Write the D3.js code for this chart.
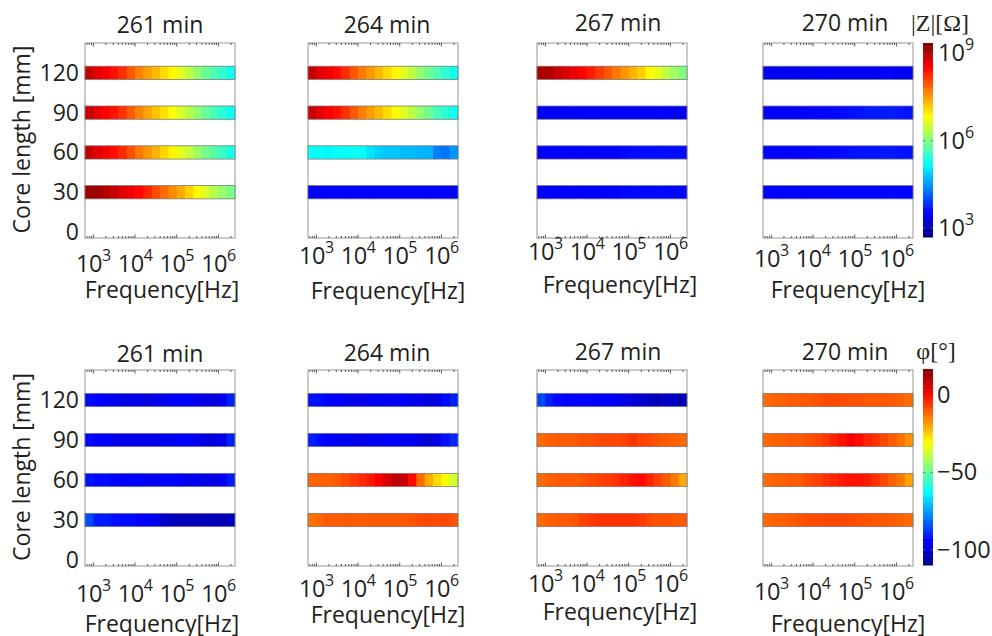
<!DOCTYPE html>
<html>
<head>
<meta charset="utf-8">
<script src="https://cdn.jsdelivr.net/npm/d3@7"></script>
<style>
body { margin: 0; background: #fff; }
text { font-family: "Open Sans", sans-serif; fill: #231f20; }
</style>
</head>
<body>
<div id="chart"></div>
<script>
// sweep frequencies [Hz] (one cell per frequency)
const freqs = [800, 1250, 2000, 3150, 5000, 8000, 12500, 20000, 31500, 50000, 80000, 125000, 200000, 315000, 500000, 800000, 1250000, 2000000];
const freqRange = [630, 2500000];
const coreLengths = [30, 60, 90, 120];
const times = [261, 264, 267, 270];
const lengthTicks = [0, 30, 60, 90, 120];
const decadeTicks = [1e3, 1e4, 1e5, 1e6];
const magTicks = [3, 6, 9];          // log10 |Z|
const phaseTicks = [0, -50, -100];   // degrees

// log10 |Z| [Ohm]; rows = core length 30, 60, 90, 120 mm
const logZ261 = [
    [9.15, 9.15, 9.02, 8.88, 8.75, 8.62, 8.49, 8.29, 8.02, 7.82, 7.62, 7.42, 7.16, 6.89, 6.62, 6.36, 6.16, 5.96],
    [8.90, 8.70, 8.58, 8.45, 8.25, 8.00, 7.75, 7.55, 7.35, 7.12, 6.92, 6.72, 6.48, 6.22, 5.95, 5.75, 5.55, 5.35],
    [8.85, 8.65, 8.52, 8.40, 8.20, 7.92, 7.66, 7.45, 7.25, 7.05, 6.85, 6.62, 6.38, 6.12, 5.86, 5.65, 5.45, 5.25],
    [8.88, 8.69, 8.55, 8.42, 8.22, 7.95, 7.69, 7.49, 7.29, 7.09, 6.89, 6.69, 6.42, 6.16, 5.89, 5.69, 5.49, 5.29]
];
const logZ264 = [
    [3.52, 3.52, 3.52, 3.52, 3.52, 3.52, 3.52, 3.52, 3.52, 3.52, 3.52, 3.52, 3.52, 3.52, 3.52, 3.52, 3.52, 3.52],
    [5.23, 5.23, 5.16, 5.23, 5.23, 5.29, 5.23, 5.03, 4.89, 4.83, 4.83, 4.76, 4.76, 4.70, 4.70, 4.36, 4.30, 4.50],
    [8.85, 8.68, 8.55, 8.42, 8.22, 7.95, 7.70, 7.50, 7.30, 7.08, 6.88, 6.65, 6.40, 6.15, 5.88, 5.66, 5.46, 5.27],
    [8.88, 8.70, 8.57, 8.44, 8.24, 7.97, 7.72, 7.52, 7.32, 7.10, 6.90, 6.68, 6.42, 6.16, 5.90, 5.68, 5.48, 5.28]
];
const logZ267 = [
    [3.50, 3.50, 3.50, 3.50, 3.50, 3.50, 3.50, 3.50, 3.50, 3.52, 3.57, 3.57, 3.57, 3.57, 3.57, 3.57, 3.57, 3.57],
    [3.50, 3.50, 3.50, 3.50, 3.50, 3.50, 3.50, 3.50, 3.50, 3.50, 3.57, 3.60, 3.60, 3.60, 3.60, 3.60, 3.60, 3.60],
    [3.45, 3.45, 3.47, 3.47, 3.47, 3.47, 3.47, 3.47, 3.47, 3.47, 3.47, 3.50, 3.50, 3.50, 3.50, 3.50, 3.50, 3.50],
    [9.08, 9.02, 8.88, 8.75, 8.62, 8.49, 8.35, 8.15, 7.95, 7.75, 7.55, 7.36, 7.16, 6.89, 6.69, 6.42, 6.22, 6.03]
];
const logZ270 = [
    [3.52, 3.52, 3.52, 3.52, 3.52, 3.52, 3.52, 3.52, 3.56, 3.56, 3.56, 3.56, 3.56, 3.56, 3.56, 3.56, 3.56, 3.56],
    [3.50, 3.50, 3.50, 3.52, 3.53, 3.53, 3.55, 3.57, 3.58, 3.60, 3.62, 3.64, 3.66, 3.66, 3.68, 3.68, 3.66, 3.64],
    [3.48, 3.48, 3.50, 3.50, 3.52, 3.53, 3.55, 3.55, 3.57, 3.59, 3.62, 3.64, 3.68, 3.70, 3.70, 3.72, 3.68, 3.64],
    [3.45, 3.45, 3.45, 3.45, 3.45, 3.45, 3.47, 3.47, 3.47, 3.47, 3.47, 3.47, 3.47, 3.47, 3.51, 3.51, 3.47, 3.47]
];

// phase [deg]; rows = core length 30, 60, 90, 120 mm
const phase261 = [
    [-85, -91, -91, -92, -93, -93, -95, -95, -97, -101, -102, -103, -103, -103, -103, -103, -103, -103],
    [-92, -93, -93, -94, -95, -95, -95, -95, -95, -94, -94, -95, -96, -96, -97, -98, -95, -91],
    [-93, -94, -95, -96, -97, -97, -97, -97, -96, -96, -95, -94, -95, -96, -98, -99, -96, -90],
    [-93, -94, -95, -96, -97, -97, -97, -98, -97, -96, -95, -94, -95, -96, -98, -99, -96, -90]
];
const phase264 = [
    [-13, -12, -10, -10, -10, -10, -10, -10, -10, -10, -10, -10, -9, -8, -8, -8, -8, -9],
    [-11, -11, -11, -10, -8, -6, -4, -2, 2, 6, 9, 8, 0, -12, -20, -26, -31, -37],
    [-91, -93, -94, -95, -96, -96, -97, -96, -96, -95, -95, -95, -96, -98, -100, -97, -92, -89],
    [-92, -93, -94, -95, -96, -97, -97, -96, -96, -95, -95, -95, -96, -97, -99, -98, -93, -90]
];
const phase267 = [
    [-12, -11, -10, -10, -9, -7, -6, -5, -5, -5, -5, -5, -6, -8, -9, -9, -10, -10],
    [-12, -11, -10, -10, -10, -9, -8, -7, -6, -5, -3, -1, 0, -3, -7, -10, -14, -20],
    [-12, -11, -10, -10, -10, -9, -9, -8, -8, -8, -7, -5, -7, -8, -9, -10, -11, -12],
    [-85, -91, -93, -94, -94, -95, -95, -94, -95, -96, -97, -99, -100, -102, -103, -101, -103, -104]
];
const phase270 = [
    [-12, -11, -11, -10, -9, -8, -8, -8, -8, -8, -8, -9, -9, -10, -10, -10, -11, -12],
    [-12, -11, -11, -10, -10, -8, -7, -5, -3, -2, -1, -1, -2, -5, -8, -11, -14, -19],
    [-12, -11, -11, -10, -10, -9, -8, -6, -3, -1, 2, 0, -3, -5, -8, -10, -13, -17],
    [-12, -11, -11, -10, -10, -10, -9, -8, -8, -8, -9, -9, -10, -10, -10, -10, -11, -12]
];

const magData = [logZ261, logZ264, logZ267, logZ270];
const phaseData = [phase261, phase264, phase267, phase270];

// MATLAB jet colormap
const jet = d3.scaleLinear()
    .domain([0, 0.125, 0.375, 0.625, 0.875, 1])
    .range(["#000083", "#0000ff", "#00ffff", "#ffff00", "#ff0000", "#800000"])
    .clamp(true);
const magDomain = [2.7, 9.35];
const phaseDomain = [-110, 17];
const magColor = d3.scaleLinear().domain(magDomain).range([0, 1]);
const phaseColor = d3.scaleLinear().domain(phaseDomain).range([0, 1]);

// layout
const panelLeft = [85, 308, 537, 763];
const panelW = 150;
const rows = [
    { top: 43, height: 195, titleY: [33, 33, 31, 31], tickY: [272, 264, 260, 267], labelY: [298, 299, 293, 298],
      data: magData, color: v => jet(magColor(v)) },
    { top: 370, height: 196, titleY: [362, 361, 360, 360], tickY: [602, 597, 592, 600], labelY: [632, 623, 620, 632],
      data: phaseData, color: v => jet(phaseColor(v)) }
];
const titleX = [160, 387, 618, 845];
const labelX = [162, 388, 620, 848];

const svg = d3.select("#chart").append("svg")
    .attr("width", 992)
    .attr("height", 636);

function supLabel(sel, base, exp) {
    sel.append("tspan").text(base);
    sel.append("tspan").attr("dy", -11).attr("font-size", 16).text(exp);
}

function drawPanel(r, c) {
    const row = rows[r];
    const left = panelLeft[c], top = row.top, width = panelW, height = row.height;
    const g = svg.append("g").attr("transform", "translate(" + left + "," + top + ")");
    const x = d3.scaleLog().domain(freqRange).range([0, width]);
    const y = d3.scaleLinear().domain([-4.5, 142.5]).range([height, 0]);
    const values = row.data[c];
    const last = freqs.length - 1;

    // frame
    g.append("rect")
        .attr("width", width).attr("height", height)
        .attr("fill", "none").attr("stroke", "#b4b4b4").attr("stroke-width", 1.4);

    // strips, one cell per frequency
    values.forEach(function (strip, i) {
        const len = coreLengths[i];
        const cells = strip.map(function (v, k) {
            return {
                v: v,
                f0: k == 0 ? freqRange[0] : Math.sqrt(freqs[k - 1] * freqs[k]),
                f1: k == last ? freqRange[1] : Math.sqrt(freqs[k] * freqs[k + 1]),
                k: k
            };
        });
        g.selectAll(null)
            .data(cells)
            .enter()
            .append("rect")
                .attr("x", d => x(d.f0))
                .attr("width", d => x(d.f1) - x(d.f0) + (d.k < last ? 0.6 : 0))
                .attr("y", y(len + 5))
                .attr("height", y(len - 5) - y(len + 5))
                .attr("fill", d => row.color(d.v));
        g.append("rect")
            .attr("x", 0).attr("y", y(len + 5))
            .attr("width", width).attr("height", y(len - 5) - y(len + 5))
            .attr("fill", "none").attr("stroke", "#7a7a7a").attr("stroke-width", 0.8);
    });

    // log ticks, top and bottom, inside
    const minor = [];
    [100, 1e3, 1e4, 1e5, 1e6].forEach(function (dec) {
        for (let m = 2; m < 10; m++) {
            const f = dec * m;
            if (f > freqRange[0] && f < freqRange[1]) minor.push(f);
        }
    });
    [[0, 1], [height, -1]].forEach(function (e) {
        g.selectAll(null).data(minor).enter().append("line")
            .attr("x1", d => x(d)).attr("x2", d => x(d))
            .attr("y1", e[0]).attr("y2", e[0] + e[1] * 2)
            .attr("stroke", "#333").attr("stroke-width", 0.8);
        g.selectAll(null).data(decadeTicks).enter().append("line")
            .attr("x1", d => x(d)).attr("x2", d => x(d))
            .attr("y1", e[0]).attr("y2", e[0] + e[1] * 3.5)
            .attr("stroke", "#333").attr("stroke-width", 0.8);
    });

    // tick labels 10^n
    svg.selectAll(null).data(decadeTicks).enter().append("text")
        .attr("x", d => left + x(d))
        .attr("y", row.tickY[c])
        .attr("text-anchor", "middle")
        .attr("font-size", 23.5)
        .attr("letter-spacing", -0.5)
        .each(function (d) { supLabel(d3.select(this), "10", Math.round(Math.log10(d))); });

    svg.append("text")
        .attr("x", labelX[c]).attr("y", row.labelY[c])
        .attr("text-anchor", "middle").attr("font-size", 23)
        .text("Frequency[Hz]");

    svg.append("text")
        .attr("x", titleX[c]).attr("y", row.titleY[c])
        .attr("text-anchor", "middle").attr("font-size", 23)
        .text(times[c] + " min");

    if (c == 0) {
        svg.selectAll(null).data(lengthTicks).enter().append("text")
            .attr("x", left - 6)
            .attr("y", d => top + y(d) + 8)
            .attr("text-anchor", "end").attr("font-size", 23)
            .text(d => d);
        svg.append("text")
            .attr("transform", "translate(30," + (top + height / 2 - 1) + ") rotate(-90)")
            .attr("text-anchor", "middle").attr("font-size", 23)
            .text("Core length [mm]");
    }
}

function drawColorbar(prop, domain, ticks, fmt, title) {
    const y = d3.scaleLinear().domain(domain).range([prop.bottom, prop.top]);
    const n = 120;
    const steps = d3.range(n).map(i => domain[0] + (domain[1] - domain[0]) * i / n);
    const step = (domain[1] - domain[0]) / n;
    svg.selectAll(null).data(steps).enter().append("rect")
        .attr("x", prop.x).attr("width", 10)
        .attr("y", d => y(d + step))
        .attr("height", d => y(d) - y(d + step) + 0.5)
        .attr("fill", d => jet((d + step / 2 - domain[0]) / (domain[1] - domain[0])));
    svg.selectAll(null).data(ticks).enter().append("line")
        .attr("x1", prop.x).attr("x2", prop.x + 2.5)
        .attr("y1", d => y(d)).attr("y2", d => y(d))
        .attr("stroke", "#666").attr("stroke-width", 0.7);
    svg.selectAll(null).data(ticks).enter().append("line")
        .attr("x1", prop.x + 7.5).attr("x2", prop.x + 10)
        .attr("y1", d => y(d)).attr("y2", d => y(d))
        .attr("stroke", "#666").attr("stroke-width", 0.7);
    svg.selectAll(null).data(ticks).enter().append("text")
        .attr("x", prop.x + 15)
        .attr("y", d => y(d) + 8)
        .attr("font-size", 23.5)
        .each(function (d) { fmt(d3.select(this), d); });
    svg.append("text")
        .attr("x", prop.titleX).attr("y", prop.titleY)
        .attr("text-anchor", "middle")
        .attr("font-size", 24)
        .style("font-family", "'Liberation Serif', serif")
        .text(title);
}

for (let r = 0; r < 2; r++) {
    for (let c = 0; c < 4; c++) drawPanel(r, c);
}

drawColorbar({ x: 923, top: 43, bottom: 237, titleX: 940, titleY: 31 }, magDomain, magTicks,
    (sel, d) => supLabel(sel, "10", d), "|Z|[\u03A9]");
drawColorbar({ x: 923, top: 369, bottom: 565, titleX: 936, titleY: 359 }, phaseDomain, phaseTicks,
    (sel, d) => sel.attr("x", 937).text(d < 0 ? "\u2212" + (-d) : d), "\u03C6[\u00B0]");
</script>
</body>
</html>
